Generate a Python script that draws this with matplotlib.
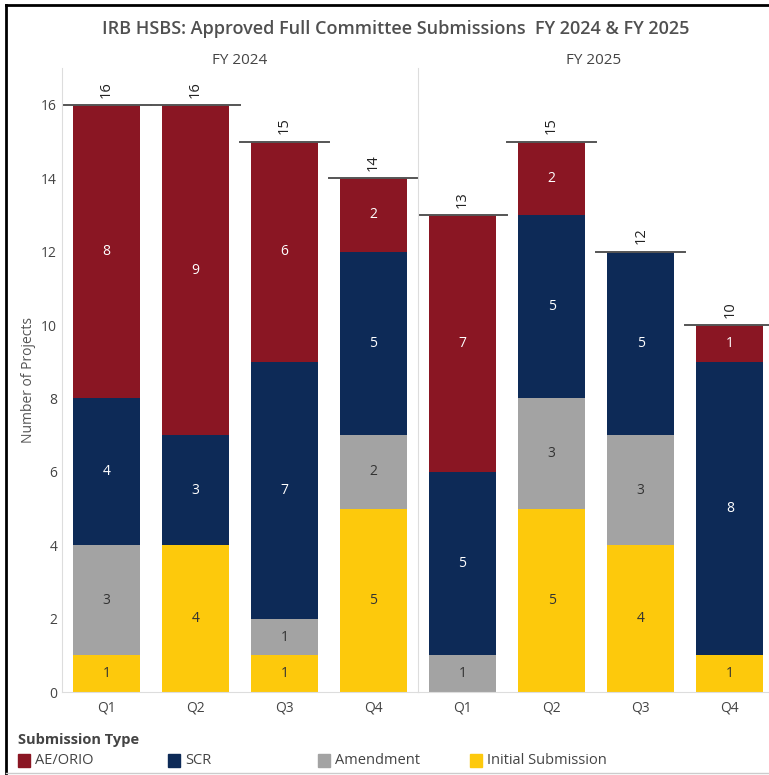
import matplotlib.pyplot as plt
import numpy as np
from matplotlib.lines import Line2D
from matplotlib.patches import Rectangle

quarters = ["Q1", "Q2", "Q3", "Q4"]
years = ["FY 2024", "FY 2025"]

# counts per quarter, one list per fiscal year
initial = {"FY 2024": [1, 4, 1, 5], "FY 2025": [0, 5, 4, 1]}
amendment = {"FY 2024": [3, 0, 1, 2], "FY 2025": [1, 3, 3, 0]}
scr = {"FY 2024": [4, 3, 7, 5], "FY 2025": [5, 5, 5, 8]}
ae_orio = {"FY 2024": [8, 9, 6, 2], "FY 2025": [7, 2, 0, 1]}

series = [
    ("Initial Submission", initial, "#FDC90C", "#333333"),
    ("Amendment", amendment, "#A3A3A3", "#333333"),
    ("SCR", scr, "#0D2A57", "white"),
    ("AE/ORIO", ae_orio, "#8A1623", "white"),
]

plt.rcParams["font.family"] = ["Open Sans", "DejaVu Sans"]
fig = plt.figure(figsize=(7.69, 7.75), dpi=100)

y0, h = 0.107, 0.805
ax1 = fig.add_axes([62 / 769, y0, 356 / 769, h])
ax2 = fig.add_axes([418 / 769, y0, 351 / 769, h])

x = np.arange(len(quarters))
for ax, yr in zip([ax1, ax2], years):
    bottom = np.zeros(len(quarters))
    for name, data, color, tcolor in series:
        vals = np.array(data[yr], dtype=float)
        ax.bar(x, vals, 0.75, bottom=bottom, color=color, label=name)
        for xi, v, b in zip(x, vals, bottom):
            if v > 0:
                ax.text(xi, b + v / 2, f"{int(v)}", ha="center", va="center",
                        color=tcolor, fontsize=10)
        bottom += vals
    for xi, tot in zip(x, bottom):
        ax.plot([xi - 0.5, xi + 0.5], [tot, tot], color="#555555", lw=1.4)
        ax.text(xi, tot + 0.2, f"{int(tot)}", ha="center", va="bottom",
                rotation=90, fontsize=10.5, color="#222222")
    ax.set_xticks(x)
    ax.set_xticklabels(quarters, fontsize=10, color="#444444")
    ax.set_ylim(0, 17)
    ax.set_title(yr, fontsize=11, color="#444444", pad=2)
    ax.tick_params(axis="x", length=0, pad=6)
    for s in ["top", "right"]:
        ax.spines[s].set_visible(False)
    ax.spines["bottom"].set_color("#dddddd")
    ax.spines["left"].set_color("#dddddd")

ax1.set_xlim(-0.5, 3.5)
ax2.set_xlim(-0.5, 3.44)
ax1.set_yticks(range(0, 17, 2))
ax1.tick_params(axis="y", length=0, labelsize=10, labelcolor="#444444")
ax1.set_ylabel("Number of Projects", fontsize=10, color="#555555")
ax2.set_yticks([])

fig.text(0.515, 0.962, "IRB HSBS: Approved Full Committee Submissions  FY 2024 & FY 2025",
         ha="center", va="center", fontsize=13, color="#505050", fontweight="semibold")

# legend, entries at fixed horizontal steps like the original
fig.text(18 / 769, 1 - 740 / 775, "Submission Type", fontsize=10.5,
         fontweight="bold", color="#444444", va="center")
leg_x = [18, 168, 318, 470]
for lx, (name, _, color, _) in zip(leg_x, series[::-1]):
    fig.add_artist(Rectangle((lx / 769, 1 - 767 / 775), 12 / 769, 13 / 775,
                             color=color, transform=fig.transFigure))
    fig.text((lx + 17) / 769, 1 - 761 / 775, name, fontsize=10.5,
             color="#444444", va="center")

# screenshot frame
fig.add_artist(Line2D([0.008, 0.008], [0, 0.994], color="black", lw=2))
fig.add_artist(Line2D([0.008, 1], [0.994, 0.994], color="black", lw=2))
fig.add_artist(Line2D([0.008, 1], [0.003, 0.003], color="#cccccc", lw=1))

fig.savefig("out.png", dpi=100)
